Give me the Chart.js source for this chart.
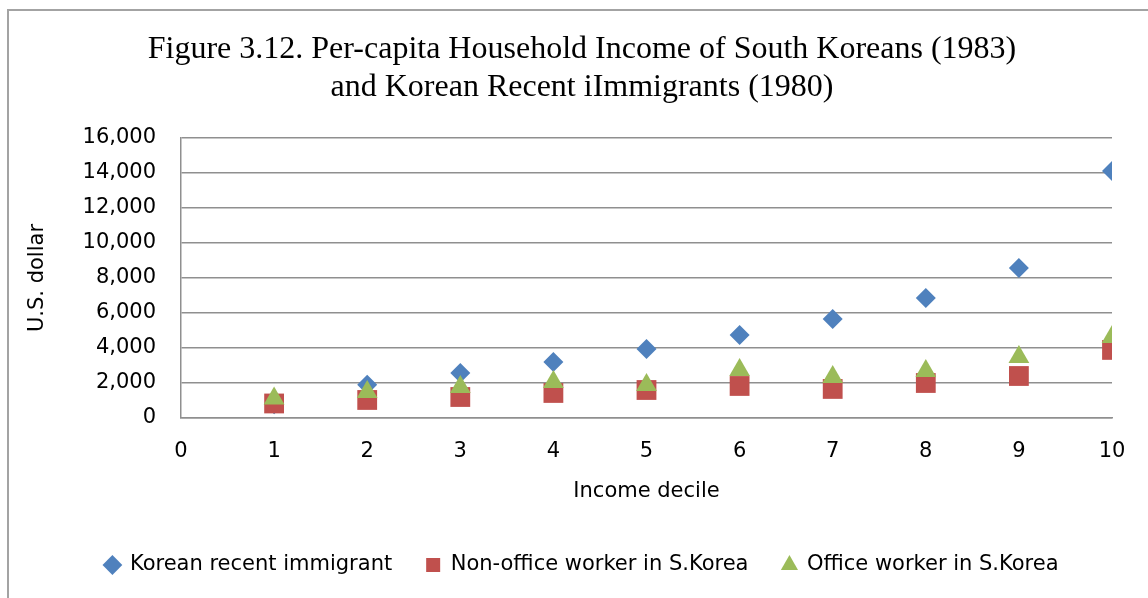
<!DOCTYPE html>
<html>
<head>
<meta charset="utf-8">
<script src="https://cdn.jsdelivr.net/npm/chart.js@4.4.1/dist/chart.umd.min.js"></script>
<style>
  html, body { margin: 0; padding: 0; background: #fff; overflow: hidden; }
  #wrap { position: relative; width: 1148px; height: 598px; }
  #frame { position: absolute; left: 7px; top: 9px; width: 1200px; height: 700px; border: 2px solid #a3a3a3; box-sizing: border-box; }
  canvas { position: absolute; left: 0; top: 0; }
</style>
</head>
<body>
<div id="wrap">
  <div id="frame"></div>
  <canvas id="c" width="1148" height="598"></canvas>
</div>
<script>
const titleLines = ["Figure 3.12. Per-capita Household Income of South Koreans (1983)", "and Korean Recent iImmigrants (1980)"];
const xAxisTitle = "Income decile";
const yAxisTitle = "U.S. dollar";
const deciles = [1, 2, 3, 4, 5, 6, 7, 8, 9, 10];
const seriesNames = ["Korean recent immigrant", "Non-office worker in S.Korea", "Office worker in S.Korea"];
const immigrant = [780, 1900, 2570, 3200, 3940, 4740, 5660, 6860, 8570, 14110];
const nonOffice = [830, 1030, 1200, 1430, 1600, 1830, 1660, 2000, 2400, 3890];
const office = [1110, 1490, 1770, 2060, 1890, 2740, 2340, 2690, 3490, 4630];
const xTicks = { min: 0, max: 10, step: 1 };
const yTicks = { min: 0, max: 16000, step: 2000 };

const toPoints = vals => deciles.map((d, i) => ({ x: d, y: vals[i] }));
const sans = "'DejaVu Sans', sans-serif";
const gridColor = '#8f8f8f';

new Chart(document.getElementById('c'), {
  type: 'scatter',
  data: {
    datasets: [
      { label: seriesNames[0], data: toPoints(immigrant), pointStyle: 'rectRot', pointRadius: 10, pointHoverRadius: 10,
        backgroundColor: '#4F81BD', borderColor: '#4F81BD', borderWidth: 0, order: 3 },
      { label: seriesNames[1], data: toPoints(nonOffice), pointStyle: 'rect', pointRadius: 14, pointHoverRadius: 14,
        backgroundColor: '#C0504D', borderColor: '#C0504D', borderWidth: 0, order: 2 },
      { label: seriesNames[2], data: toPoints(office), pointStyle: 'triangle', pointRadius: 12, pointHoverRadius: 12,
        backgroundColor: '#9BBB59', borderColor: '#9BBB59', borderWidth: 0, order: 1 }
    ]
  },
  options: {
    responsive: false,
    animation: false,
    events: [],
    layout: { padding: { left: 16, right: 0, top: 0, bottom: 12.5 } },
    plugins: {
      tooltip: { enabled: false },
      title: {
        display: true,
        text: titleLines,
        color: '#000',
        font: { family: "'Liberation Serif', 'Times New Roman', serif", size: 32, weight: 'normal', lineHeight: 1.1875 },
        padding: { top: 31, bottom: 31 }
      },
      legend: {
        position: 'bottom',
        labels: {
          usePointStyle: true,
          boxWidth: 14,
          boxHeight: 14,
          padding: 34,
          color: '#000',
          font: { family: sans, size: 21 },
          sort: (a, b) => a.datasetIndex - b.datasetIndex
        }
      }
    },
    scales: {
      x: {
        type: 'linear',
        position: 'bottom',
        min: xTicks.min, max: xTicks.max,
        afterFit: s => { s.height = 102.5; },
        ticks: { stepSize: xTicks.step, color: '#000', padding: 21, font: { family: sans, size: 21 } },
        grid: { display: false, drawTicks: false },
        border: { display: true, color: gridColor, width: 1.5 },
        title: { display: true, text: xAxisTitle, color: '#000', font: { family: sans, size: 21 }, padding: { top: 0, bottom: 16 } }
      },
      y: {
        type: 'linear',
        position: 'left',
        min: yTicks.min, max: yTicks.max,
        afterFit: s => { s.width = 165; },
        ticks: { stepSize: yTicks.step, color: '#000', padding: 25, font: { family: sans, size: 21 },
          callback: v => v.toLocaleString('en-US') },
        grid: { color: gridColor, lineWidth: 1.5, drawTicks: false },
        border: { display: true, color: gridColor, width: 1.5 },
        title: { display: true, text: yAxisTitle, color: '#000', font: { family: sans, size: 21 }, padding: { top: 9.4, bottom: 0 } }
      },
      rightSpace: {
        type: 'linear',
        position: 'right',
        display: true,
        afterFit: s => { s.width = 36; },
        ticks: { display: false },
        grid: { display: false, drawTicks: false },
        border: { display: false }
      }
    }
  }
});
</script>
</body>
</html>
